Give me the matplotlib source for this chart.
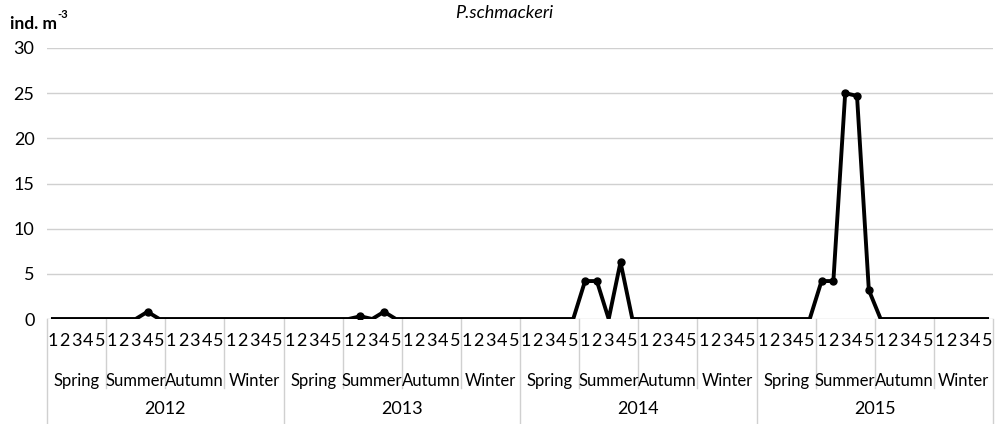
import matplotlib.pyplot as plt
import numpy as np
from matplotlib.transforms import blended_transform_factory

plt.rcParams['font.family'] = ['Lato', 'DejaVu Sans']

years = ["2012", "2013", "2014", "2015"]
seasons = ["Spring", "Summer", "Autumn", "Winter"]
stations = ["1", "2", "3", "4", "5"]

# density per station, season by season (spring, summer, autumn, winter)
values = [
    # 2012
    0, 0, 0, 0, 0,  0, 0, 0, 0.8, 0,  0, 0, 0, 0, 0,  0, 0, 0, 0, 0,
    # 2013
    0, 0, 0, 0, 0,  0, 0.3, 0, 0.8, 0,  0, 0, 0, 0, 0,  0, 0, 0, 0, 0,
    # 2014
    0, 0, 0, 0, 0,  4.2, 4.2, 0, 6.3, 0,  0, 0, 0, 0, 0,  0, 0, 0, 0, 0,
    # 2015
    0, 0, 0, 0, 0,  4.2, 4.2, 25.0, 24.7, 3.2,  0, 0, 0, 0, 0,  0, 0, 0, 0, 0,
]

n = len(values)
x = np.arange(n)
y = np.array(values)

fig = plt.figure(figsize=(9.96, 4.24), dpi=100)
ax = fig.add_axes([47 / 996, 105 / 424, 946 / 996, 271 / 424])

ax.plot(x, y, color="black", lw=2.8, zorder=3)
nz = y > 0
ax.plot(x[nz], y[nz], "o", color="black", ms=5, zorder=4)

ax.set_xlim(-0.5, n - 0.5)
ax.set_ylim(0, 30)
ax.set_yticks(range(0, 31, 5))
ax.yaxis.grid(True, color="#d0d0d0", lw=1)
ax.set_axisbelow(True)
for s in ax.spines.values():
    s.set_visible(False)
ax.tick_params(axis="y", length=0, labelsize=13, pad=9)
ax.set_xticks([])

tr = blended_transform_factory(ax.transData, ax.transAxes)
px = 1 / 271  # one pixel in axes units (height)

# station numbers
for i in range(n):
    ax.text(i, -22 * px, stations[i % 5], transform=tr, ha="center", va="center", fontsize=13)
# seasons
for k in range(16):
    ax.text(k * 5 + 2, -62 * px, seasons[k % 4], transform=tr, ha="center", va="center", fontsize=12)
# years
for j, yr in enumerate(years):
    ax.text(j * 20 + 9.5, -90 * px, yr, transform=tr, ha="center", va="center", fontsize=13)

# separator lines
for k in range(17):
    xb = k * 5 - 0.5
    bottom = -105 * px if k % 4 == 0 else -69 * px
    ax.plot([xb, xb], [0, bottom], transform=tr, color="#d0d0d0", lw=1, clip_on=False)

fig.text(504 / 996, 1 - 13 / 424, "P.schmackeri", ha="center", va="center", fontsize=13, style="italic")
fig.text(10 / 996, 1 - 24 / 424, "ind. m", ha="left", va="center", fontsize=12.5, fontweight="bold")
fig.text(57 / 996, 1 - 15 / 424, "-3", ha="left", va="center", fontsize=8, fontweight="bold")

fig.savefig("out.png", dpi=100)
